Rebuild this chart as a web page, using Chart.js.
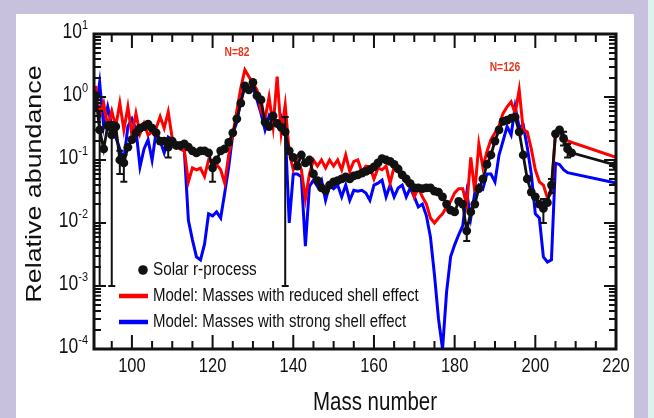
<!DOCTYPE html>
<html><head><meta charset="utf-8">
<script src="https://cdn.jsdelivr.net/npm/chart.js@4.4.1/dist/chart.umd.min.js"></script>
<style>html,body{margin:0;padding:0;background:#c8c1dd;}canvas{display:block;}</style>
</head><body>
<canvas id="c" width="654" height="418"></canvas>
<script>
// ---- data ----
const solarA = [91,92,93,94,95,96,97,98,99,100,101,102,103,104,105,106,107,108,109,110,
111,112,113,114,115,116,117,118,119,120,121,122,123,124,125,126,127,128,129,130,
131,132,133,134,135,136,137,138,139,140,141,142,143,144,145,146,147,148,149,150,
151,152,153,154,155,156,157,158,159,160,161,162,163,164,165,166,167,168,169,170,
171,172,173,174,175,176,177,178,179,180,181,182,183,184,185,186,187,188,189,190,
191,192,193,194,195,196,197,198,199,200,201,202,203,204,205,206,207,208,209,220];
const solarValues = [1.05,0.3,0.15,0.35,0.25,0.34,0.1,0.09,0.16,0.21,0.27,0.32,0.34,0.37,0.32,0.27,0.2,0.2,0.16,0.2,
0.17,0.17,0.18,0.16,0.14,0.13,0.14,0.14,0.13,0.075,0.1,0.14,0.15,0.19,0.27,0.45,0.8,1.5,1.3,1.7,
1.05,0.9,0.4,0.34,0.5,0.38,0.33,0.28,0.14,0.11,0.08,0.12,0.09,0.1,0.06,0.047,0.036,0.033,0.04,0.045,
0.047,0.05,0.054,0.05,0.056,0.058,0.062,0.066,0.07,0.078,0.09,0.105,0.1,0.095,0.085,0.072,0.058,0.05,0.042,0.036,
0.036,0.035,0.036,0.036,0.032,0.031,0.026,0.02,0.016,0.015,0.022,0.02,0.0075,0.015,0.02,0.035,0.05,0.085,0.12,0.2,
0.3,0.41,0.43,0.46,0.48,0.28,0.12,0.05,0.031,0.026,0.02,0.017,0.021,0.04,0.26,0.3,0.22,0.15,0.13,0.083];
// error bars of the solar points
const errA    = [92,    95,    97,   98,    109,  120,   138,   183,    202,   204,  207,  208];
const errLow  = [0.001, 0.001, 0.06, 0.045, 0.11, 0.045, 0.001, 0.0052, 0.010, 0.03, 0.17, 0.11];
const errHigh = [0.6,   0.4,   0.14, 0.12,  0.22, 0.1,   0.48,  0.01,   0.024, 0.05, 0.28, 0.18];

const modelA = [91,92,93,94,95,96,97,98,99,100,101,102,103,104,105,106,107,108,109,110,
111,112,113,114,115,116,117,118,119,120,121,122,123,124,125,126,127,128,129,130,
131,132,133,134,135,136,137,138,139,140,141,142,143,144,145,146,147,148,149,150,
151,152,153,154,155,156,157,158,159,160,161,162,163,164,165,166,167,168,169,170,
171,172,173,174,175,176,177,178,179,180,181,182,183,184,185,186,187,188,189,190,
191,192,193,194,195,196,197,198,199,200,201,202,203,204,205,206,207,208,220];
const reducedShell = [1.5,0.5,0.8,0.34,0.6,0.34,0.8,0.3,0.7,0.25,0.55,0.26,0.38,0.25,0.28,0.32,0.49,0.32,0.58,0.22,
0.17,0.15,0.14,0.045,0.075,0.07,0.074,0.055,0.1,0.09,0.085,0.07,0.043,0.12,0.25,0.6,1.4,2.7,2.1,1.65,
1.3,0.6,0.45,1.0,0.34,2.1,0.27,0.75,0.13,0.07,0.1,0.07,0.024,0.06,0.1,0.08,0.1,0.075,0.1,0.08,
0.1,0.07,0.12,0.066,0.095,0.1,0.065,0.08,0.078,0.05,0.075,0.07,0.08,0.043,0.078,0.065,0.055,0.043,0.046,0.026,
0.036,0.026,0.02,0.012,0.01,0.012,0.014,0.018,0.022,0.03,0.035,0.035,0.019,0.11,0.031,0.18,0.077,0.135,0.21,0.27,
0.35,0.55,0.7,0.84,0.55,1.3,0.3,0.28,0.15,0.07,0.045,0.04,0.025,0.03,0.28,0.28,0.24,0.2,0.11];
const strongShell = [0.62,1.7,0.34,0.7,0.35,0.23,0.15,0.1,0.34,0.45,0.3,0.078,0.15,0.21,0.1,0.28,0.2,0.13,0.23,0.21,
0.18,0.15,0.14,0.011,0.0054,0.0029,0.0026,0.0046,0.014,0.013,0.015,0.012,0.03,0.078,0.26,0.4,0.9,1.5,1.3,1.45,
0.9,0.55,0.3,0.5,0.38,0.34,0.48,0.3,0.01,0.06,0.06,0.054,0.0043,0.038,0.048,0.038,0.048,0.023,0.04,0.035,
0.04,0.026,0.04,0.023,0.033,0.032,0.033,0.03,0.023,0.04,0.043,0.048,0.026,0.04,0.026,0.036,0.04,0.026,0.036,0.026,
0.018,0.02,0.013,0.006,0.0015,0.0003,0.0001,0.0008,0.0029,0.0045,0.0065,0.009,0.03,0.012,0.03,0.04,0.035,0.06,0.06,0.045,
0.12,0.2,0.34,0.25,0.7,0.33,0.36,0.16,0.06,0.014,0.012,0.0029,0.0024,0.0026,0.089,0.085,0.07,0.063,0.043];

const xTickLabels = [100,120,140,160,180,200,220];
const xMinorTicks = [95,100,105,110,115,120,125,130,135,140,145,150,155,160,165,170,175,180,185,190,195,200,205,210,215,220];
const yTickExponents = [-4,-3,-2,-1,0,1];
const yMinorMantissas = [2,3,4,5,6,7,8,9];
const peakLabels = [{text:'N=82', x:237, y:53}, {text:'N=126', x:505, y:68}];

// ---- drawing helpers ----
const K = 1.22; // vertical stretch of the reference's lettering
const FAM = '"Liberation Sans", Arial, sans-serif';
function sText(ctx, txt, x, y, size, o) {
  o = o || {};
  ctx.save();
  ctx.translate(x, y);
  ctx.scale(1, K);
  if (o.rot) ctx.rotate(o.rot);
  ctx.font = (o.bold ? 'bold ' : '') + size + 'px ' + FAM;
  ctx.textAlign = o.align || 'left';
  ctx.textBaseline = o.base || 'middle';
  ctx.fillStyle = o.color || '#111';
  ctx.fillText(txt, 0, 0);
  ctx.restore();
}

const framePlugin = {
  id: 'frame',
  beforeDraw(chart) {
    const c = chart.ctx;
    c.save();
    c.fillStyle = '#c8c1dd'; c.fillRect(0, 0, 654, 418);
    c.fillStyle = '#ffffff'; c.fillRect(16, 14, 618, 404);
    c.fillStyle = '#dff0ef'; c.fillRect(648, 0, 6, 418);
    c.restore();
  },
  afterDatasetsDraw(chart) {
    const c = chart.ctx, xs = chart.scales.x, ys = chart.scales.y;
    c.save();
    c.strokeStyle = '#111'; c.lineWidth = 2;
    errA.forEach((a, i) => {
      const px = xs.getPixelForValue(a);
      const y1 = ys.getPixelForValue(errLow[i]), y2 = ys.getPixelForValue(errHigh[i]);
      c.beginPath();
      c.moveTo(px, y1); c.lineTo(px, y2);
      c.moveTo(px - 3.5, y1); c.lineTo(px + 3.5, y1);
      c.moveTo(px - 3.5, y2); c.lineTo(px + 3.5, y2);
      c.stroke();
    });
    c.restore();
  },
  afterDraw(chart) {
    const c = chart.ctx, xs = chart.scales.x, ys = chart.scales.y, a = chart.chartArea;
    c.save();
    // frame
    c.strokeStyle = '#111'; c.lineWidth = 3;
    c.strokeRect(a.left, a.top, a.right - a.left, a.bottom - a.top);
    // x ticks (inside, top and bottom)
    c.lineWidth = 2;
    c.beginPath();
    xMinorTicks.forEach(v => {
      const px = xs.getPixelForValue(v);
      const len = (v % 20 === 0) ? 14 : 8;
      c.moveTo(px, a.bottom); c.lineTo(px, a.bottom - len);
      c.moveTo(px, a.top); c.lineTo(px, a.top + len);
    });
    // y ticks (inside, left and right)
    yTickExponents.forEach(e => {
      const base = Math.pow(10, e);
      const py = ys.getPixelForValue(base);
      c.moveTo(a.left, py); c.lineTo(a.left + 12, py);
      c.moveTo(a.right, py); c.lineTo(a.right - 12, py);
      if (e < 1) yMinorMantissas.forEach(m => {
        const q = ys.getPixelForValue(m * base);
        c.moveTo(a.left, q); c.lineTo(a.left + 7, q);
        c.moveTo(a.right, q); c.lineTo(a.right - 7, q);
      });
    });
    c.stroke();
    // x tick labels
    xTickLabels.forEach(v => {
      sText(c, String(v), xs.getPixelForValue(v), 366, 16.5, {align: 'center'});
    });
    // y tick labels 10^n
    yTickExponents.forEach(e => {
      const py = ys.getPixelForValue(Math.pow(10, e)) - 2;
      const ex = String(e);
      c.font = '11px ' + FAM;
      const we = c.measureText(ex).width;
      const right = 88;
      sText(c, '10', right - we, py, 17.5, {align: 'right'});
      sText(c, ex, right - we, py - 7, 11, {align: 'left'});
    });
    // axis titles
    sText(c, 'Mass number', 375, 403, 20.5, {align: 'center'});
    sText(c, 'Relative abundance', 35, 184, 22, {align: 'center', rot: -Math.PI / 2});
    // peak labels
    peakLabels.forEach(p => sText(c, p.text, p.x, p.y, 10.3, {align: 'center', bold: true, color: '#e8341c'}));
    // legend
    const ds = chart.data.datasets;
    c.fillStyle = '#111';
    c.beginPath(); c.arc(143, 270, 4.8, 0, Math.PI * 2); c.fill();
    sText(c, ds[0].label, 153, 270, 15.3);
    c.lineWidth = 4.5;
    c.strokeStyle = '#ff0000';
    c.beginPath(); c.moveTo(119, 296); c.lineTo(148, 296); c.stroke();
    sText(c, ds[1].label, 153, 296, 15);
    c.strokeStyle = '#0000ff';
    c.beginPath(); c.moveTo(119, 322); c.lineTo(148, 322); c.stroke();
    sText(c, ds[2].label, 153, 322, 15);
    c.restore();
  }
};

const pts = (xs, ys) => xs.map((x, i) => ({x: x, y: ys[i]}));

new Chart(document.getElementById('c'), {
  type: 'line',
  data: {
    datasets: [
      {label: 'Solar r-process', data: pts(solarA, solarValues), borderColor: '#111', backgroundColor: '#111',
       borderWidth: 2.8, pointRadius: 4.4, pointBorderWidth: 0, pointBackgroundColor: '#111', tension: 0},
      {label: 'Model: Masses with reduced shell effect', data: pts(modelA, reducedShell), borderColor: '#ff0000',
       borderWidth: 3, pointRadius: 0, tension: 0},
      {label: 'Model: Masses with strong shell effect', data: pts(modelA, strongShell), borderColor: '#0000ff',
       borderWidth: 3, pointRadius: 0, tension: 0}
    ]
  },
  options: {
    responsive: false, animation: false, devicePixelRatio: 1,
    layout: {padding: {left: 94, top: 34, right: 38, bottom: 69}},
    plugins: {legend: {display: false}, tooltip: {enabled: false}},
    scales: {
      x: {type: 'linear', min: 90.6, max: 220, grid: {display: false}, border: {display: false},
          ticks: {display: false}, afterFit: s => { s.height = 0; }},
      y: {type: 'logarithmic', min: 1e-4, max: 10, grid: {display: false}, border: {display: false},
          ticks: {display: false}, afterFit: s => { s.width = 0; }}
    }
  },
  plugins: [framePlugin]
});
</script>
</body></html>
